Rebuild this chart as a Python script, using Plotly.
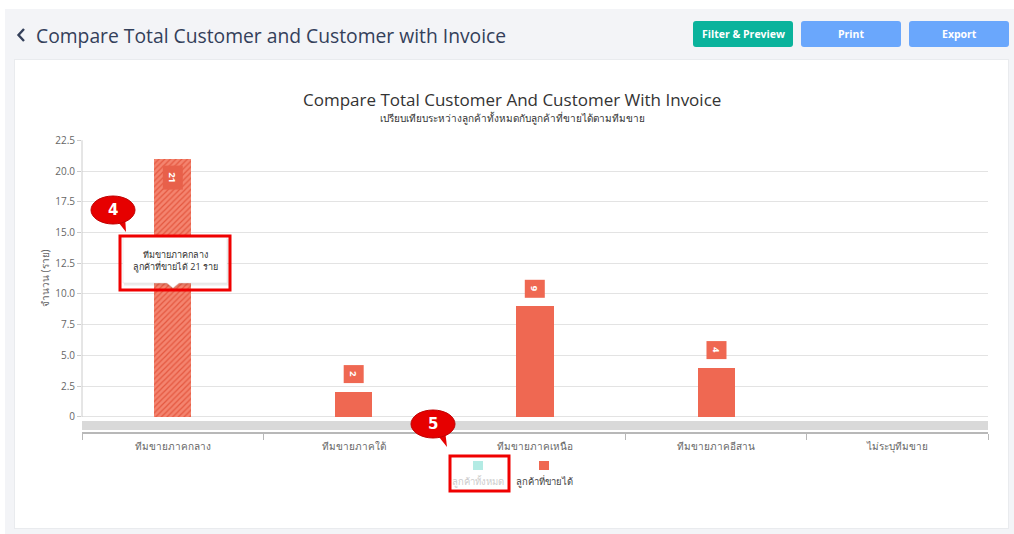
import plotly.graph_objects as go

# ---------------- data ----------------
categories = ["ทีมขายภาคกลาง", "ทีมขายภาคใต้", "ทีมขายภาคเหนือ", "ทีมขายภาคอีสาน", "ไม่ระบุทีมขาย"]
customers_with_invoice = [21, 2, 9, 4, 0]
series_names = ["ลูกค้าทั้งหมด", "ลูกค้าที่ขายได้"]
series_colors = ["#b3ebe4", "#ef6852"]
series_hidden = [True, False]
ytick_vals = [0, 2.5, 5, 7.5, 10, 12.5, 15, 17.5, 20, 22.5]
ytick_text = ["0", "2.5", "5.0", "7.5", "10.0", "12.5", "15.0", "17.5", "20.0", "22.5"]
page_title = "Compare Total Customer and Customer with Invoice"
chart_title = "Compare Total Customer And Customer With Invoice"
chart_subtitle = "เปรียบเทียบระหว่างลูกค้าทั้งหมดกับลูกค้าที่ขายได้ตามทีมขาย"
y_title = "จำนวน (ราย)"
unit = "ราย"
buttons = ["Filter & Preview", "Print", "Export"]
button_colors = ["#0ab39c", "#6aa7fc", "#6aa7fc"]
hover_index = 0

W, H = 1014, 534
FONT = "Open Sans, Noto Sans, DejaVu Sans, sans-serif"


def fx(x):
    return x / W


def fy(y):
    return 1 - y / H


def rrect(x0, y0, x1, y1, r):
    path = f"M {fx(x0 + r)},{fy(y0)} L {fx(x1 - r)},{fy(y0)} Q {fx(x1)},{fy(y0)} {fx(x1)},{fy(y0 + r)} "
    path += f"L {fx(x1)},{fy(y1 - r)} Q {fx(x1)},{fy(y1)} {fx(x1 - r)},{fy(y1)} "
    path += f"L {fx(x0 + r)},{fy(y1)} Q {fx(x0)},{fy(y1)} {fx(x0)},{fy(y1 - r)} "
    path += f"L {fx(x0)},{fy(y0 + r)} Q {fx(x0)},{fy(y0)} {fx(x0 + r)},{fy(y0)} Z"
    return path


def poly(points):
    return "M " + " L ".join(f"{fx(x)},{fy(y)}" for x, y in points) + " Z"


bar_color = series_colors[1]
pattern_shapes = ["/" if i == hover_index else "" for i in range(len(categories))]

fig = go.Figure()
fig.add_trace(go.Bar(
    x=categories,
    y=customers_with_invoice,
    name=series_names[1],
    width=0.205,
    marker=dict(
        color=bar_color,
        line=dict(width=0),
        pattern=dict(shape=pattern_shapes, fgcolor="#e4573f", bgcolor="#f4846f",
                     size=4, solidity=0.3, fillmode="replace"),
    ),
    showlegend=False,
    hoverinfo="skip",
))

shapes = []
annotations = []

# page chrome
shapes.append(dict(type="rect", xref="paper", yref="paper", x0=0, x1=1, y0=fy(9), y1=1,
                   fillcolor="#ffffff", line=dict(width=0), layer="below"))
shapes.append(dict(type="rect", xref="paper", yref="paper", x0=0, x1=fx(5), y0=0, y1=1,
                   fillcolor="#ffffff", line=dict(width=0), layer="below"))
shapes.append(dict(type="rect", xref="paper", yref="paper", x0=fx(14), x1=fx(1009), y0=fy(529), y1=fy(59),
                   fillcolor="#e9ebee", line=dict(width=0), layer="below"))
shapes.append(dict(type="rect", xref="paper", yref="paper", x0=fx(15), x1=fx(1008), y0=fy(528), y1=fy(60),
                   fillcolor="#ffffff", line=dict(width=0), layer="below"))
# back chevron
shapes.append(dict(type="path", xref="paper", yref="paper",
                   path=f"M {fx(24)},{fy(29)} L {fx(18.5)},{fy(35)} L {fx(24)},{fy(41)}",
                   line=dict(color="#34405a", width=2.4)))
annotations.append(dict(xref="paper", yref="paper", x=fx(34), y=fy(35), text=page_title,
                        showarrow=False, xanchor="left", yanchor="middle",
                        font=dict(family=FONT, size=19.3, color="#34405a")))
# buttons
bx = [693, 801, 909]
for i, (label, col) in enumerate(zip(buttons, button_colors)):
    shapes.append(dict(type="path", xref="paper", yref="paper", path=rrect(bx[i], 21, bx[i] + 100, 47, 3),
                       fillcolor=col, line=dict(width=0)))
    annotations.append(dict(xref="paper", yref="paper", x=fx(bx[i] + 50), y=fy(34), text=f"<b>{label}</b>",
                            showarrow=False, xanchor="center", yanchor="middle",
                            font=dict(family=FONT, size=10.5, color="#ffffff")))

# chart titles
annotations.append(dict(xref="paper", yref="paper", x=fx(512), y=fy(99), text=chart_title, showarrow=False,
                        xanchor="center", yanchor="middle", font=dict(family=FONT, size=17, color="#333333")))
annotations.append(dict(xref="paper", yref="paper", x=fx(512), y=fy(118), text=chart_subtitle, showarrow=False,
                        xanchor="center", yanchor="middle", font=dict(family=FONT, size=10, color="#333333")))
annotations.append(dict(xref="paper", yref="paper", x=fx(45), y=fy(278), text=y_title, showarrow=False,
                        textangle=-90, xanchor="center", yanchor="middle",
                        font=dict(family=FONT, size=10, color="#666666")))

# y axis line & scrollbar band
shapes.append(dict(type="line", xref="paper", yref="y", x0=fx(82), x1=fx(82), y0=0, y1=22.5,
                   line=dict(color="#cccccc", width=1)))
shapes.append(dict(type="rect", xref="paper", yref="paper", x0=fx(82), x1=fx(988), y0=fy(430), y1=fy(421),
                   fillcolor="#d9d9d9", line=dict(width=0)))

# data labels (rotated, in small boxes)
for c, v in zip(categories, customers_with_invoice):
    if v <= 0:
        continue
    inside = v + 1.6 > ytick_vals[-1]
    n = len(str(v))
    annotations.append(dict(x=c, y=v, xref="x", yref="y", text=f"<b>{v}</b>", showarrow=False,
                            textangle=90, yshift=-19 if inside else 18, xanchor="center", yanchor="middle",
                            width=9 + 6 * n, height=17, borderpad=1,
                            bgcolor="#e8604a" if inside else bar_color,
                            font=dict(family=FONT, size=9.5, color="#ffffff")))

# tooltip (hover state of first bar)
shapes.append(dict(type="path", xref="paper", yref="paper",
                   path=poly([(124, 239), (229, 239), (229, 285.5), (179, 285.5), (173, 290.5), (167, 285.5), (124, 285.5)]),
                   fillcolor="rgba(0,0,0,0.08)", line=dict(width=0)))
shapes.append(dict(type="path", xref="paper", yref="paper",
                   path=poly([(123, 237), (227, 237), (227, 283), (179, 283), (173, 288), (167, 283), (123, 283)]),
                   fillcolor="#ffffff", line=dict(color="#dddddd", width=0.5)))
annotations.append(dict(xref="paper", yref="paper", x=fx(175), y=fy(260),
                        text=f"{categories[hover_index]}<br>{series_names[1]} {customers_with_invoice[hover_index]} {unit}",
                        showarrow=False, xanchor="center", yanchor="middle", align="center",
                        font=dict(family=FONT, size=9, color="#333333")))
# red highlight frames
shapes.append(dict(type="rect", xref="paper", yref="paper", x0=fx(120), x1=fx(230), y0=fy(290), y1=fy(236),
                   line=dict(color="#f00000", width=3)))
shapes.append(dict(type="rect", xref="paper", yref="paper", x0=fx(450), x1=fx(509), y0=fy(491), y1=fy(456),
                   line=dict(color="#f00000", width=3)))

# callout bubbles
for num, cx, cy, tip in [("4", 113, 210, (126, 232)), ("5", 433, 424, (447, 447))]:
    shapes.append(dict(type="path", xref="paper", yref="paper",
                       path=poly([(cx + 2, cy + 8), tip, (cx + 12, cy + 6)]),
                       fillcolor="#e60000", line=dict(width=0)))
    shapes.append(dict(type="circle", xref="paper", yref="paper", x0=fx(cx - 22), x1=fx(cx + 22),
                       y0=fy(cy + 14), y1=fy(cy - 14), fillcolor="#e60000", line=dict(color="#c00000", width=1)))
    annotations.append(dict(xref="paper", yref="paper", x=fx(cx), y=fy(cy), text=f"<b>{num}</b>",
                            showarrow=False, xanchor="center", yanchor="middle",
                            font=dict(family="DejaVu Sans, sans-serif", size=15, color="#ffffff")))

# legend (symbol above label)
leg_x = [478, 544]
for name, col, hidden, lx in zip(series_names, series_colors, series_hidden, leg_x):
    shapes.append(dict(type="rect", xref="paper", yref="paper", x0=fx(lx - 5), x1=fx(lx + 5),
                       y0=fy(470), y1=fy(461), fillcolor=col, line=dict(width=0)))
    annotations.append(dict(xref="paper", yref="paper", x=fx(lx), y=fy(481), text=name, showarrow=False,
                            xanchor="center", yanchor="middle",
                            font=dict(family=FONT, size=9.5, color="#cccccc" if hidden else "#444444")))

fig.update_layout(
    width=W, height=H, autosize=False,
    margin=dict(l=0, r=0, t=0, b=0, pad=0),
    paper_bgcolor="#f3f4f7",
    plot_bgcolor="rgba(0,0,0,0)",
    font=dict(family=FONT, color="#666666"),
    showlegend=False,
    bargap=0,
    xaxis=dict(domain=[fx(82), fx(988)], range=[-0.5, 4.5], type="category", automargin=False,
               showline=True, linecolor="#b8b8b8", linewidth=1.5,
               ticks="outside", tickson="boundaries", ticklen=6, tickcolor="#b8b8b8",
               ticklabelstandoff=4,
               showgrid=False, zeroline=False, tickfont=dict(family=FONT, size=10, color="#666666"),
               fixedrange=True),
    yaxis=dict(domain=[fy(432), fy(140)], range=[-1.22, 22.52], automargin=False,
               tickmode="array", tickvals=ytick_vals, ticktext=ytick_text,
               showgrid=True, gridcolor="#e3e3e3", gridwidth=1, zeroline=False, showline=False,
               ticks="outside", ticklen=4, tickcolor="#cccccc",
               tickfont=dict(family=FONT, size=10, color="#666666"), fixedrange=True),
    shapes=shapes,
    annotations=annotations,
)

fig.write_html("out.html")
